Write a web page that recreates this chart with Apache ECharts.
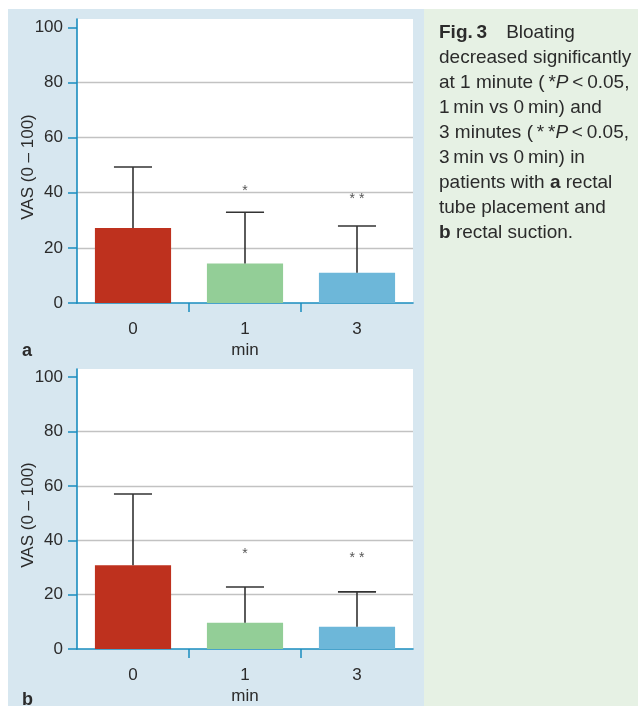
<!DOCTYPE html>
<html><head><meta charset="utf-8">
<script src="https://cdn.jsdelivr.net/npm/echarts@6/dist/echarts.min.js"></script>
<style>
html,body{margin:0;padding:0;background:#fff}
#wrap{position:relative;width:638px;height:706px;overflow:hidden}
#bgL{position:absolute;left:8px;top:9px;width:416px;height:697px;background:#d7e7f0}
#bgR{position:absolute;left:424px;top:9px;width:214px;height:697px;background:#e6f1e4}
#c{position:absolute;left:0;top:0;width:638px;height:706px}
</style>
</head><body>
<div id="wrap"><div id="bgL"></div><div id="bgR"></div><div id="c"></div></div>
<script>
// ---- data ----
const categories = ['0', '1', '3'];
const yTicks = [0, 20, 40, 60, 80, 100];
const bandBoundaries = [1, 2];
const meanA = [27.2, 14.3, 11.0];
const errTopA = [49.3, 32.9, 27.9];
const sigPosA = [null, 41.8, 38.9];
const meanB = [30.8, 9.7, 8.2];
const errTopB = [57.0, 22.8, 21.0];
const sigPosB = [null, 36.1, 34.5];
const sigLabels = ['', '*', '* *'];
const xName = 'min';
const yName = 'VAS (0 – 100)';
const panelLabels = ['a', 'b'];
const captionLines = [
  '{b|Fig.\u20093}\u2003Bloating',
  'decreased significantly',
  'at 1 minute (\u2009*{i|P}\u2009<\u20090.05,',
  '1\u2009min vs 0\u2009min) and',
  '3 minutes (\u2009*\u2009*{i|P}\u2009<\u20090.05,',
  '3\u2009min vs 0\u2009min) in',
  'patients with {b|a} rectal',
  'tube placement and',
  '{b|b} rectal suction.'
];

// ---- style ----
const FONT = 'Liberation Sans';
const barColors = ['#be311e', '#93ce97', '#6db7d9'];
const axisBlue = '#1a8dbf';
const textColor = '#2b2b2b';
const panels = [
  { mean: meanA, err: errTopA, sig: sigPosA, top: 19 },
  { mean: meanB, err: errTopB, sig: sigPosB, top: 369 }
];

const grid = [], xAxis = [], yAxis = [], series = [];
panels.forEach((p, g) => {
  grid.push({ left: 77, top: p.top, width: 336, height: 284, show: true, backgroundColor: '#ffffff', borderWidth: 0 });
  xAxis.push({
    type: 'category', gridIndex: g, data: categories, position: 'bottom',
    name: xName, nameLocation: 'middle', nameGap: 39, nameMoveOverlap: false,
    nameTextStyle: { fontFamily: FONT, fontSize: 17, color: textColor },
    axisLine: { onZero: false, lineStyle: { color: axisBlue, width: 1.6 } },
    axisTick: { show: false },
    axisLabel: { fontFamily: FONT, fontSize: 17, color: textColor, margin: 18 }
  });
  xAxis.push({
    type: 'value', gridIndex: g, min: 0, max: 3, position: 'bottom',
    axisLine: { show: false, onZero: false },
    axisLabel: { show: false },
    splitLine: { show: false },
    axisTick: { show: true, customValues: bandBoundaries, length: 9, lineStyle: { color: axisBlue, width: 1.5 } }
  });
  yAxis.push({
    type: 'value', gridIndex: g, min: 0, max: 103, interval: 20,
    name: yName, nameLocation: 'middle', nameGap: 40, nameMoveOverlap: false,
    nameTextStyle: { fontFamily: FONT, fontSize: 17, color: textColor, padding: [0, 12, 0, 0] },
    axisLine: { show: true, onZero: false, lineStyle: { color: axisBlue, width: 1.6 } },
    axisTick: { show: true, customValues: yTicks, length: 9, lineStyle: { color: axisBlue, width: 1.5 } },
    axisLabel: { customValues: yTicks, fontFamily: FONT, fontSize: 17, color: textColor, margin: 14 },
    splitLine: { show: true, showMaxLine: false, showMinLine: false, lineStyle: { color: '#c2c2c2', width: 1.3 } }
  });
  series.push({
    type: 'bar', xAxisIndex: 2 * g, yAxisIndex: g, barWidth: '68%',
    data: p.mean.map((v, i) => ({ value: v, itemStyle: { color: barColors[i] } })),
    z: 2
  });
  series.push({
    type: 'custom', xAxisIndex: 2 * g, yAxisIndex: g, z: 5,
    data: categories.map((c, i) => [i, p.mean[i], p.err[i]]),
    renderItem: function (params, api) {
      const i = api.value(0);
      const base = api.coord([i, api.value(1)]);
      const top = api.coord([i, api.value(2)]);
      const half = api.size([1, 0])[0] * 0.17;
      const st = { stroke: '#333333', lineWidth: 1.6 };
      const children = [
        { type: 'line', shape: { x1: top[0], y1: base[1], x2: top[0], y2: top[1] }, style: st },
        { type: 'line', shape: { x1: top[0] - half, y1: top[1], x2: top[0] + half, y2: top[1] }, style: st }
      ];
      if (sigLabels[i] && p.sig[i] != null) {
        const s = api.coord([i, p.sig[i]]);
        children.push({ type: 'text', x: s[0], y: s[1] + 3, style: {
          text: sigLabels[i], fontFamily: FONT, fontSize: 14, fill: '#555555',
          align: 'center', verticalAlign: 'middle' } });
      }
      return { type: 'group', children };
    }
  });
});

const CAP = 19;
const rich = {
  b: { fontFamily: FONT, fontSize: CAP, lineHeight: 25, fontWeight: 'bold', color: textColor },
  i: { fontFamily: FONT, fontSize: CAP, lineHeight: 25, fontStyle: 'italic', color: textColor }
};

const option = {
  animation: false,
  backgroundColor: 'transparent',
  grid, xAxis, yAxis, series,
  title: [
    { text: captionLines.join('\n'), left: 439, top: 20, padding: 0,
      textStyle: { fontFamily: FONT, fontSize: CAP, lineHeight: 25, fontWeight: 'normal', color: textColor, rich } },
    { text: panelLabels[0], left: 22, top: 342, padding: 0,
      textStyle: { fontFamily: FONT, fontSize: 18, fontWeight: 'bold', color: textColor } },
    { text: panelLabels[1], left: 22, top: 691, padding: 0,
      textStyle: { fontFamily: FONT, fontSize: 18, fontWeight: 'bold', color: textColor } }
  ]
};
const chart = echarts.init(document.getElementById('c'), null, { renderer: 'canvas' });
chart.setOption(option);
</script>
</body></html>
